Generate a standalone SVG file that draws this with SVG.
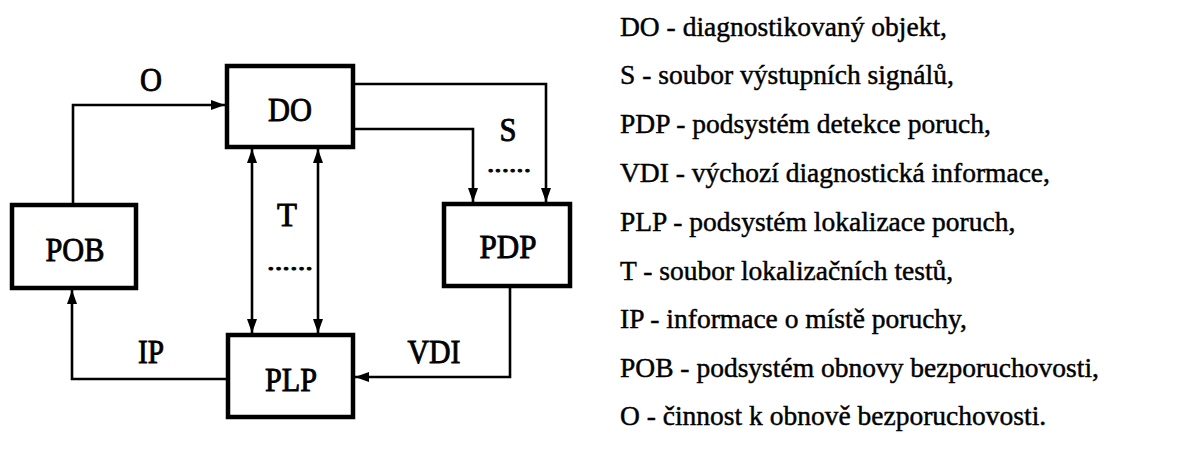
<svg xmlns="http://www.w3.org/2000/svg" width="1194" height="450" viewBox="0 0 1194 450">
  <style>
    .box { fill: #fff; stroke: #000; stroke-width: 4.5; }
    .wire { fill: none; stroke: #000; stroke-width: 2.6; }
    text { font-family: 'Liberation Serif', 'Times New Roman', serif; fill: #000; stroke: #000; }
    .lbl { font-size: 34px; text-anchor: middle; stroke-width: 0.9; }
    .dots { font-size: 24px; text-anchor: middle; stroke-width: 0.9; }
    .leg { font-size: 27.5px; stroke-width: 0.45; }
  </style>
  <defs>
    <marker id="arrow" viewBox="0 0 14 10" refX="14" refY="5" markerWidth="14" markerHeight="10" markerUnits="userSpaceOnUse" orient="auto-start-reverse">
      <path d="M0,0 L14,5 L0,10 z" fill="#000"/>
    </marker>
  </defs>
  <rect width="1194" height="450" fill="#fff"/>

  <!-- connectors and their labels -->
  <g id="connectors">
    <path class="wire" d="M73,205 V105 H225" marker-end="url(#arrow)"/>
    <path class="wire" d="M355,84 H546 V202" marker-end="url(#arrow)"/>
    <path class="wire" d="M355,129 H473 V202" marker-end="url(#arrow)"/>
    <path class="wire" d="M252,149 V333" marker-start="url(#arrow)" marker-end="url(#arrow)"/>
    <path class="wire" d="M318,149 V333" marker-start="url(#arrow)" marker-end="url(#arrow)"/>
    <path class="wire" d="M510,288 V377 H355" marker-end="url(#arrow)"/>
    <path class="wire" d="M226,379 H72 V290" marker-end="url(#arrow)"/>
    <text class="lbl" x="151" y="91" textLength="22" lengthAdjust="spacingAndGlyphs">O</text>
    <text class="lbl" x="508" y="141" textLength="17" lengthAdjust="spacingAndGlyphs">S</text>
    <text class="dots" x="509" y="172" textLength="44" lengthAdjust="spacingAndGlyphs">......</text>
    <text class="lbl" x="287" y="226" textLength="20" lengthAdjust="spacingAndGlyphs">T</text>
    <text class="dots" x="290" y="270" textLength="46" lengthAdjust="spacingAndGlyphs">......</text>
    <text class="lbl" x="151" y="363" textLength="26" lengthAdjust="spacingAndGlyphs">IP</text>
    <text class="lbl" x="434" y="363" textLength="53" lengthAdjust="spacingAndGlyphs">VDI</text>
  </g>

  <g id="DO">
    <rect class="box" x="227" y="66" width="126" height="81"/>
    <text class="lbl" x="290" y="121" textLength="44" lengthAdjust="spacingAndGlyphs">DO</text>
  </g>
  <g id="POB">
    <rect class="box" x="12" y="205" width="124" height="83"/>
    <text class="lbl" x="75" y="261" textLength="59" lengthAdjust="spacingAndGlyphs">POB</text>
  </g>
  <g id="PDP">
    <rect class="box" x="444" y="204" width="126" height="82"/>
    <text class="lbl" x="508" y="258" textLength="57" lengthAdjust="spacingAndGlyphs">PDP</text>
  </g>
  <g id="PLP">
    <rect class="box" x="228" y="335" width="125" height="82"/>
    <text class="lbl" x="291" y="391" textLength="52" lengthAdjust="spacingAndGlyphs">PLP</text>
  </g>

  <!-- legend -->
  <g id="legend">
    <text class="leg" x="620" y="36">DO - diagnostikovaný objekt,</text>
    <text class="leg" x="620" y="84">S - soubor výstupních signálů,</text>
    <text class="leg" x="620" y="133">PDP - podsystém detekce poruch,</text>
    <text class="leg" x="620" y="182">VDI - výchozí diagnostická informace,</text>
    <text class="leg" x="620" y="231">PLP - podsystém lokalizace poruch,</text>
    <text class="leg" x="620" y="280">T - soubor lokalizačních testů,</text>
    <text class="leg" x="620" y="328">IP - informace o místě poruchy,</text>
    <text class="leg" x="620" y="377">POB - podsystém obnovy bezporuchovosti,</text>
    <text class="leg" x="620" y="425">O - činnost k obnově bezporuchovosti.</text>
  </g>
</svg>
